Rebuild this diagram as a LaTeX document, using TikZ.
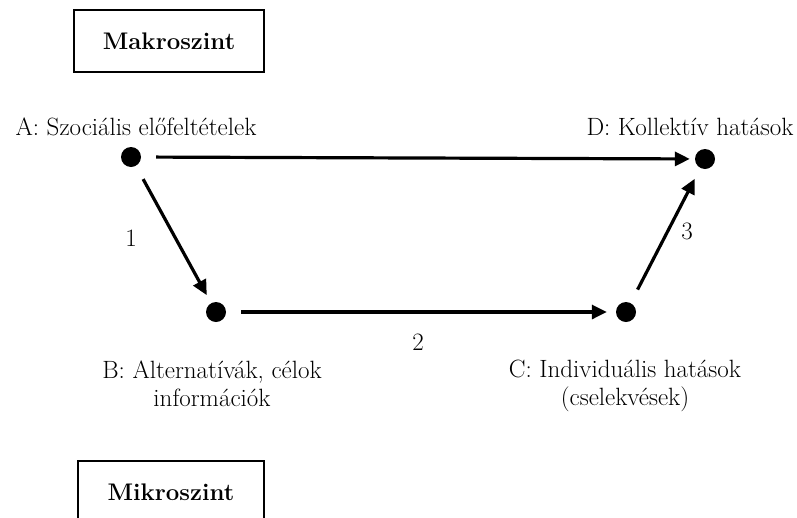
\documentclass[tikz,border=0pt]{standalone}
\usetikzlibrary{arrows.meta,positioning}

\tikzset{
  dot/.style={circle,fill=black,inner sep=0pt,minimum size=20pt},
  levelbox/.style={draw,line width=1.3pt,minimum width=190pt,minimum height=62pt},
  boxfont/.style={font=\fontsize{24}{28}\selectfont\bfseries},
  link/.style={line width=3.2pt,-{Triangle[length=15pt,width=14pt]},shorten <=15pt,shorten >=9pt}
}

\begin{document}
\begin{tikzpicture}[x=1pt,y=-1pt,font=\fontsize{25}{28}\selectfont]
  \useasboundingbox (0,0) rectangle (797,517);
  % szintek
  \node[levelbox,boxfont] (makro) at (169,41) {Makroszint};
  \draw[line width=1.3pt] (78,540) |- (264,461) -- (264,540);
  \node[boxfont] (mikro) at (171,492) {Mikroszint};
  % pontok
  \node[dot] (a) at (131,157) {};
  \node[dot] (b) at (216,312) {};
  \node[dot] (c) at (626,312) {};
  \node[dot] (d) at (705,159) {};
  % feliratok
  \node (la) at (136,127) {A: Szociális előfeltételek};
  \node[anchor=east] (ld) at (797,127) {D: Kollektív hatások};
  \node[align=center] (lb) at (212,384) {B: Alternatívák, célok\\információk};
  \node[align=center] (lc) at (625,386) {C: Individuális hatások\\(cselekvések)};
  % nyilak
  \draw[link,shorten >=5pt] (a) -- (d);
  \draw[link] (a) -- (b);
  \draw[link] (b) -- (c);
  \draw[link,shorten >=12pt] (c) -- (d);
  \node (n1) at (131,238) {1};
  \node (n2) at (418,342) {2};
  \node (n3) at (687,231) {3};
\end{tikzpicture}
\end{document}
